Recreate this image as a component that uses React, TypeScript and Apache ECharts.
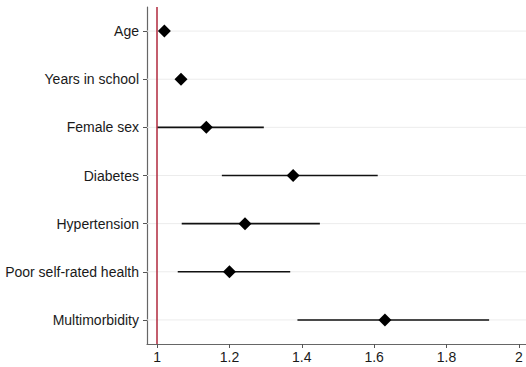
import React, { useEffect, useRef } from "react";
import * as echarts from "echarts";

const categories = [
  "Age",
  "Years in school",
  "Female sex",
  "Diabetes",
  "Hypertension",
  "Poor self-rated health",
  "Multimorbidity",
];
const estimates = [1.02, 1.066, 1.136, 1.376, 1.243, 1.2, 1.63];
const lower = [1.012, 1.056, 1.0, 1.179, 1.068, 1.057, 1.388];
const upper = [1.028, 1.076, 1.295, 1.61, 1.45, 1.368, 1.918];
const xTicks = [1, 1.2, 1.4, 1.6, 1.8, 2];

export default function App() {
  const ref = useRef<HTMLDivElement>(null);
  useEffect(() => {
    if (!ref.current) return;
    const chart = echarts.init(ref.current, undefined, { renderer: "svg" });
    const font = "'Liberation Sans', Arial, Helvetica, sans-serif";
    chart.setOption({
      animation: false,
      backgroundColor: "#ffffff",
      grid: { left: 147, right: 0, top: 7, bottom: 23 },
      xAxis: {
        type: "value",
        min: 0.972,
        max: 2.02,
        axisLine: { show: true, lineStyle: { color: "#666", width: 1.2 } },
        axisTick: {
          show: true,
          length: 4,
          customValues: xTicks,
          lineStyle: { color: "#555" },
        },
        axisLabel: {
          customValues: xTicks,
          color: "#1a1a1a",
          fontSize: 14,
          fontFamily: font,
          margin: 6,
          formatter: (v: number) => String(Math.round(v * 10) / 10),
        },
        splitLine: { show: false },
      },
      yAxis: {
        type: "category",
        data: categories,
        inverse: true,
        boundaryGap: true,
        axisLine: { show: true, lineStyle: { color: "#666", width: 1.2 } },
        axisTick: {
          show: true,
          alignWithLabel: true,
          length: 4,
          lineStyle: { color: "#555" },
        },
        axisLabel: {
          color: "#1a1a1a",
          fontSize: 14,
          fontFamily: font,
          margin: 8,
        },
        splitLine: { show: false },
      },
      series: [
        {
          type: "custom",
          name: "grid",
          silent: true,
          z: 1,
          data: categories.map((_, i) => [i]),
          encode: { y: 0 },
          renderItem: (params: any, api: any) => {
            const cs = params.coordSys;
            const y = api.coord([1, api.value(0)])[1];
            return {
              type: "line",
              shape: { x1: cs.x, y1: y, x2: cs.x + cs.width, y2: y },
              style: { stroke: "#ececec", lineWidth: 1 },
            };
          },
        },
        {
          type: "custom",
          name: "ci",
          z: 3,
          data: categories.map((_, i) => [i, lower[i], upper[i]]),
          encode: { y: 0, x: [1, 2] },
          renderItem: (params: any, api: any) => {
            const p1 = api.coord([api.value(1), api.value(0)]);
            const p2 = api.coord([api.value(2), api.value(0)]);
            return {
              type: "line",
              shape: { x1: p1[0], y1: p1[1], x2: p2[0], y2: p2[1] },
              style: { stroke: "#111", lineWidth: 1.6 },
            };
          },
        },
        {
          type: "scatter",
          name: "estimate",
          z: 4,
          symbol: "diamond",
          symbolSize: [13, 13],
          itemStyle: { color: "#000", opacity: 1 },
          data: estimates.map((v, i) => [v, i]),
          markLine: {
            silent: true,
            symbol: "none",
            label: { show: false },
            lineStyle: { color: "#b0283c", width: 1.5, type: "solid" },
            data: [{ xAxis: 1 }],
          },
        },
      ],
    });
    return () => chart.dispose();
  }, []);
  return (
    <div
      ref={ref}
      style={{ position: "fixed", left: 0, top: 0, width: 526, height: 367 }}
    />
  );
}
